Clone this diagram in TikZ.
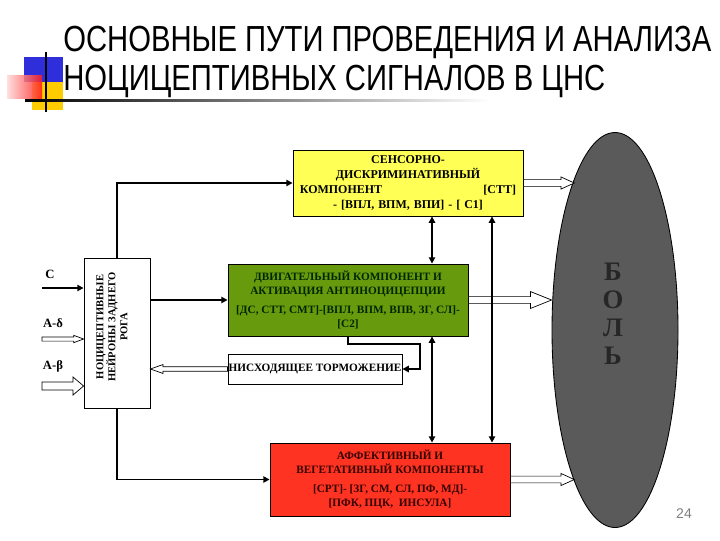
\documentclass[tikz,border=0pt]{standalone}
\usepackage{fontspec}
\setmainfont{Liberation Serif}
\newfontfamily\ttlfont{Liberation Sans}
\usetikzlibrary{shapes.geometric}
\usetikzlibrary{arrows.meta}
\usetikzlibrary{calc}
\definecolor{snsyellow}{HTML}{FFFF55}
\definecolor{motgreen}{HTML}{679A0C}
\definecolor{affred}{HTML}{FF3322}
\definecolor{painfill}{HTML}{5A5A5A}
\definecolor{decblue}{HTML}{2E2EDB}
\definecolor{decyellow}{HTML}{FFCC00}
\newcommand{\pxl}{0.025cm}
\newcommand{\boxfont}{\bfseries\fontsize{8}{10}\selectfont}
\tikzset{
  box/.style={draw=black, line width=0.6pt, inner sep=0pt, align=center,
    font=\boxfont},
  link/.style={line width=1.4pt, -{Triangle[length=4.5pt,width=4.5pt]}},
  dlink/.style={line width=1.4pt,
    {Triangle[length=4.5pt,width=4.5pt]}-{Triangle[length=4.5pt,width=4.5pt]}},
  hollow/.style n args={3}{draw=black, line width=0.5pt, fill=white,
    to path={let \p1=(\tikztostart), \p2=(\tikztotarget),
      \n1={atan2(\y2-\y1,\x2-\x1)}, \n2={veclen(\x2-\x1,\y2-\y1)} in
      [shift={(\p1)}, rotate=\n1]
      (0pt,#1) -- ({\n2-#3},#1) -- ({\n2-#3},#2) -- ({\n2},0pt)
      -- ({\n2-#3},-#2) -- ({\n2-#3},-#1) -- (0pt,-#1) -- cycle}},
  inlbl/.style={font=\bfseries\fontsize{9}{9}\selectfont, inner sep=0pt},
  ttl/.style={anchor=base west, inner sep=0pt,
    font=\ttlfont\fontsize{25.8}{25.8}\selectfont}
}

\begin{document}
\begin{tikzpicture}[x=0.025cm,y=-0.025cm]
  \useasboundingbox (0,0) rectangle (720,540);

  % title corner
  \fill[decyellow] (32,82) rectangle (63,110);
  \fill[decblue] (24,57) rectangle (63,82);
  \shade[left color=red!15, right color=red!90, opacity=0.85] (7,75) rectangle (42,98);
  \draw[line width=1.2pt] (46,52) -- (46,112);
  \shade[left color=black, right color=white] (25,99) rectangle (490,101);

  \node[ttl] (ttla) at (63,51)
    {\scalebox{0.806}[1]{ОСНОВНЫЕ ПУТИ ПРОВЕДЕНИЯ И АНАЛИЗА}};
  \node[ttl] (ttlb) at (63,90)
    {\scalebox{0.806}[1]{НОЦИЦЕПТИВНЫХ СИГНАЛОВ В ЦНС}};

  % boxes
  \node[box, fill=snsyellow, minimum width=230*\pxl, minimum height=66*\pxl,
    text width=5.4cm, font=\bfseries\fontsize{8.5}{10.5}\selectfont] (sens)
    at (408,183)
    {СЕНСОРНО-\\ДИСКРИМИНАТИВНЫЙ\\КОМПОНЕНТ\hfill[СТТ]\\- [ВПЛ, ВПМ, ВПИ] - [ С1]};
  \node[box, fill=motgreen, text=black!85!green, minimum width=240*\pxl,
    minimum height=72*\pxl] (motor) at (348,300)
    {ДВИГАТЕЛЬНЫЙ КОМПОНЕНТ И\\АКТИВАЦИЯ АНТИНОЦИЦЕПЦИИ\\[3pt]
     {[}ДС, СТТ, СМТ]-[ВПЛ, ВПМ, ВПВ, ЗГ, СЛ]-\\{[}С2]};
  \node[box, fill=white, minimum width=174*\pxl, minimum height=30*\pxl] (desc)
    at (315,369) {НИСХОДЯЩЕЕ ТОРМОЖЕНИЕ};
  \node[box, fill=affred, text=black!80!red, minimum width=240*\pxl,
    minimum height=73*\pxl] (affect) at (390,479.5)
    {АФФЕКТИВНЫЙ И\\ВЕГЕТАТИВНЫЙ КОМПОНЕНТЫ\\[3pt]
     {[}СРТ]- [ЗГ, СМ, СЛ, ПФ, МД]-\\{[}ПФК, ПЦК,\ \ ИНСУЛА]};
  \node[box, fill=white, minimum width=66*\pxl, minimum height=150*\pxl] (horn)
    at (117,333) {};
  \node[font=\bfseries\fontsize{7.5}{8.5}\selectfont, align=center, rotate=90,
    inner sep=0pt] (hornlbl) at (112,327)
    {НОЦИЦЕПТИВНЫЕ\\НЕЙРОНЫ ЗАДНЕГО\\РОГА};
  \node[ellipse, draw=black, line width=0.6pt, fill=painfill,
    minimum width=126*\pxl, minimum height=395*\pxl] (pain) at (615,330) {};
  \node[font=\bfseries\fontsize{19}{20}\selectfont, text=black!85, align=center,
    inner sep=0pt] (painlbl) at (613,314) {Б\\О\\Л\\Ь};

  % afferent inputs
  \node[inlbl] (clbl) at (50,274) {С};
  \node[inlbl] (adlbl) at (53,323) {А-δ};
  \node[inlbl] (ablbl) at (53,366) {А-β};
  \coordinate (cin) at (42,288);
  \coordinate (adin) at (42,339);
  \coordinate (abin) at (42,386);
  \draw[link] (cin) -- (cin -| horn.west);
  \draw[hollow={1.5pt}{2.6pt}{7pt}] (adin) to (adin -| horn.west);
  \draw[hollow={2.8pt}{6.4pt}{7.5pt}] (abin) to (abin -| horn.west);

  % outputs to pain
  \draw[hollow={2.4pt}{4.3pt}{9.5pt}] (sens.east) to (sens.east -| pain.105);
  \draw[hollow={2.4pt}{6pt}{15pt}] (motor.east) to (motor.east -| pain.west);
  \draw[hollow={2.4pt}{4.3pt}{9.5pt}] (affect.east) to (affect.east -| pain.255);
  \draw[hollow={1.6pt}{3.2pt}{9pt}] (desc.west) to (desc.west -| horn.east);

  % pathways
  \coordinate (colA) at (432,0);
  \coordinate (colB) at (492,0);
  \coordinate (bend) at (420,344);
  \draw[link] (horn.north) |- (sens.west);
  \draw[link] (horn.east |- motor.west) -- (motor.west);
  \draw[link] (horn.south) |- (affect.west);
  \draw[link] (motor.south) -- (motor.south |- bend) -- (bend)
    -- (bend |- desc.east) -- (desc.east);
  \draw[dlink] (sens.south -| colA) -- (motor.north -| colA);
  \draw[dlink] (motor.south -| colA) -- (affect.north -| colA);
  \draw[dlink] (sens.south -| colB) -- (affect.north -| colB);

  \node[text=gray, font=\ttlfont\fontsize{10}{10}\selectfont] (pgnum)
    at (684,514) {24};
\end{tikzpicture}
\end{document}
